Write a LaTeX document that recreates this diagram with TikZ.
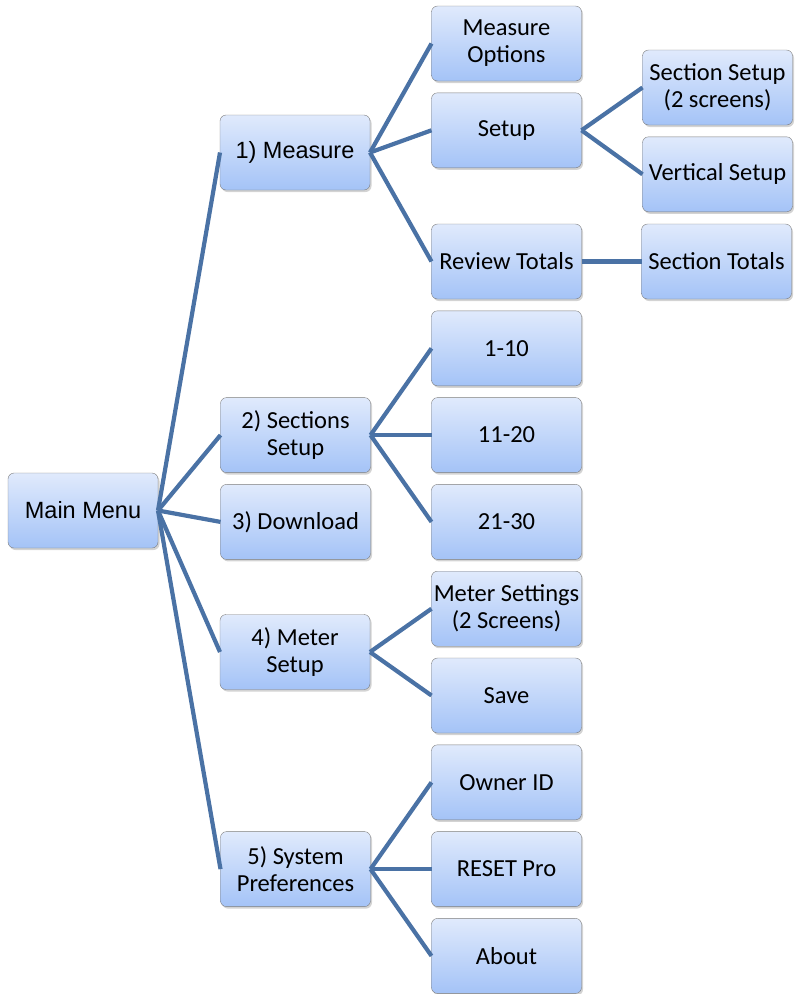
\documentclass[tikz,border=0pt]{standalone}
\usepackage{fontspec}
\setmainfont{Carlito}
\newfontfamily\arialfont{Liberation Sans}
\usetikzlibrary{positioning,shadows}
\definecolor{boxtop}{RGB}{224,234,252}
\definecolor{boxbottom}{RGB}{164,195,247}
\definecolor{boxline}{RGB}{125,125,125}
\definecolor{linkblue}{RGB}{74,114,165}
\tikzset{
  menubox/.style={draw=boxline, rounded corners=6pt, top color=boxtop,
    bottom color=boxbottom, minimum width=150pt, minimum height=75pt,
    align=center, inner sep=2pt, outer sep=0pt,
    font=\fontsize{24.5}{27}\selectfont,
    drop shadow={opacity=0.35, shadow xshift=1.5pt, shadow yshift=-2pt}},
  arialbox/.style={menubox, font=\arialfont\fontsize{23.5}{27}\selectfont},
  link/.style={draw=linkblue, line width=4.2pt}
}
\begin{document}
\begin{tikzpicture}[x=1pt,y=-1pt,node distance=11.8pt]
		\useasboundingbox (0,0) rectangle (799,994);
		
		% second column
		\node[menubox] (opts) at (506.5,43.5) {Measure\\Options};
		\node[menubox] (setup) [below=of opts] {Setup};
		\node[menubox] (review) at (506.5,261.5) {Review Totals};
		\node[menubox] (one) [below=of review] {1-10};
		\node[menubox] (eleven) [below=of one] {11-20};
		\node[menubox] (twentyone) [below=of eleven] {21-30};
		\node[menubox] (settings) [below=of twentyone] {Meter Settings\\(2 Screens)};
		\node[menubox] (save) [below=of settings] {Save};
		\node[menubox] (owner) [below=of save] {Owner ID};
		\node[menubox] (reset) [below=of owner] {RESET Pro};
		\node[menubox] (about) [below=of reset] {About};
		
		% third column
		\node[menubox] (secsetup) at (717.5,87.5) {Section Setup\\(2 screens)};
		\node[menubox] (vertical) [below=of secsetup] {Vertical Setup};
		\node[menubox] (sectotals) [right=60pt of review] {Section Totals};
		
		% first column
		\node[arialbox] (measure) at (295,152.5) {1) Measure};
		\node[menubox] (sections) [left=61pt of eleven] {2) Sections\\Setup};
		\node[menubox] (download) [left=61pt of twentyone] {3) Download};
		\node[menubox] (meter) at (295,652) {4) Meter\\Setup};
		\node[menubox] (system) [left=61pt of reset] {5) System\\Preferences};
		
		\node[arialbox] (main) at (83,510.5) {Main Menu};
		
		% connectors
		\foreach \kid in {measure,sections,download,meter,system}
		\draw[link] (main.east) -- (\kid.west);
		\foreach \kid in {opts,setup,review}
		\draw[link] (measure.east) -- (\kid.west);
		\foreach \kid in {secsetup,vertical}
		\draw[link] (setup.east) -- (\kid.west);
		\draw[link] (review.east) -- (sectotals.west);
		\foreach \kid in {one,eleven,twentyone}
		\draw[link] (sections.east) -- (\kid.west);
		\foreach \kid in {settings,save}
		\draw[link] (meter.east) -- (\kid.west);
		\foreach \kid in {owner,reset,about}
		\draw[link] (system.east) -- (\kid.west);
		
	\end{tikzpicture}
\end{document}
